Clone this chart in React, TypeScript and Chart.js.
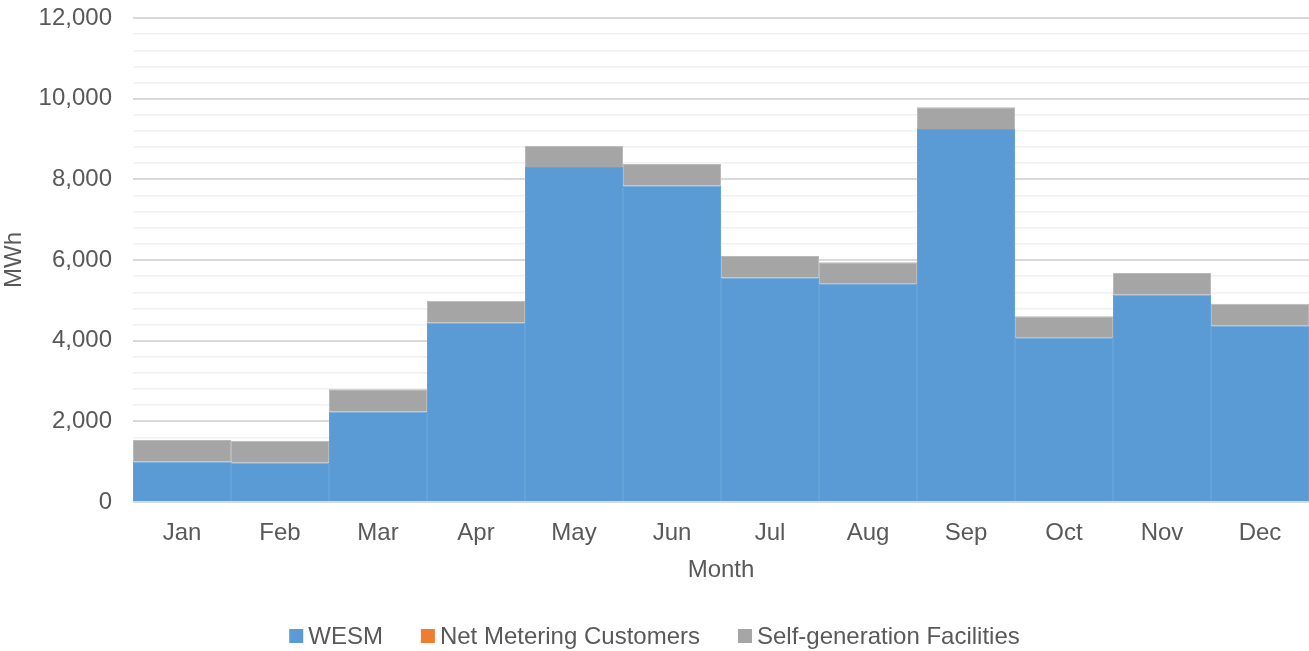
import React, { useEffect, useRef } from "react";
import { Chart, registerables } from "chart.js";

Chart.register(...registerables);

const months = ["Jan", "Feb", "Mar", "Apr", "May", "Jun", "Jul", "Aug", "Sep", "Oct", "Nov", "Dec"];
const wesm = [999, 975, 2239, 4446, 8306, 7843, 5562, 5421, 9248, 4083, 5140, 4372];
const netMetering = [0, 0, 0, 0, 0, 0, 0, 0, 0, 0, 0, 0];
const selfGeneration = [538, 545, 555, 545, 528, 537, 537, 521, 537, 520, 538, 545];
const seriesLabels = ["WESM", "Net Metering Customers", "Self-generation Facilities"];
const seriesColors = ["#5b9bd5", "#ed7d31", "#a5a5a5"];
const seriesEdges = ["#65a2d8", "#ed7d31", "#b9b9b9"];

const FONT = "'Liberation Sans', Arial, sans-serif";
const FS = 24;
const TXT = "#595959";

const legendPlugin = {
  id: "customLegend",
  afterDraw(chart: any) {
    const ctx = chart.ctx;
    ctx.save();
    ctx.font = `${FS}px ${FONT}`;
    const box = 14, gap = 5, itemGap = 38;
    const items = chart.data.datasets.map((d: any) => ({
      label: d.label,
      color: d.backgroundColor,
      w: ctx.measureText(d.label).width,
    }));
    let total = 0;
    items.forEach((it: any, i: number) => {
      total += box + gap + it.w + (i > 0 ? itemGap : 0);
    });
    let x = (chart.width - total) / 2;
    const y = 636;
    ctx.textBaseline = "middle";
    ctx.textAlign = "left";
    items.forEach((it: any) => {
      ctx.fillStyle = it.color;
      ctx.fillRect(x, y - box / 2, box, box);
      ctx.fillStyle = TXT;
      ctx.fillText(it.label, x + box + gap, y + 1);
      x += box + gap + it.w + itemGap;
    });
    ctx.restore();
  },
};

export default function App() {
  const ref = useRef<HTMLCanvasElement | null>(null);
  useEffect(() => {
    document.body.style.margin = "0";
    if (!ref.current) return;
    const data = [wesm, netMetering, selfGeneration];
    const chart = new Chart(ref.current, {
      type: "bar",
      data: {
        labels: months,
        datasets: data.map((vals, i) => ({
          label: seriesLabels[i],
          data: vals,
          backgroundColor: seriesColors[i],
          borderColor: seriesEdges[i],
          borderWidth: i === 1 ? 0 : 1,
          inflateAmount: 0,
          barPercentage: 1,
          categoryPercentage: 1,
        })),
      },
      options: {
        animation: false,
        responsive: true,
        maintainAspectRatio: false,
        layout: { padding: { top: 18, right: 0, left: 0, bottom: 66 } },
        plugins: {
          legend: { display: false },
          tooltip: { enabled: false },
        },
        scales: {
          x: {
            stacked: true,
            grid: { display: false, drawTicks: false },
            border: { display: false },
            ticks: {
              color: TXT,
              font: { family: FONT, size: FS },
              padding: 17,
              maxRotation: 0,
            },
            title: {
              display: true,
              text: "Month",
              color: TXT,
              font: { family: FONT, size: FS },
              padding: 0,
            },
            afterFit(scale: any) {
              scale.height = 83;
              scale.paddingLeft = 0;
              scale.paddingRight = 0;
            },
          },
          y: {
            stacked: true,
            min: 0,
            max: 12000,
            border: { display: false },
            grid: {
              drawTicks: false,
              color: (c: any) => (c.tick && c.tick.value % 2000 === 0 ? "#d9d9d9" : "#f0f0f0"),
              lineWidth: (c: any) => (c.tick && c.tick.value % 2000 === 0 ? 2 : 1.5),
            },
            ticks: {
              stepSize: 400,
              autoSkip: false,
              color: TXT,
              font: { family: FONT, size: FS },
              padding: 21,
              callback: (v: any) => (Number(v) % 2000 === 0 ? Number(v).toLocaleString("en-US") : ""),
            },
            title: {
              display: true,
              text: "MWh",
              color: TXT,
              font: { family: FONT, size: FS },
              padding: 0,
            },
            afterFit(scale: any) {
              scale.width = 133;
              scale.paddingTop = 0;
              scale.paddingBottom = 0;
            },
          },
        },
      },
      plugins: [legendPlugin],
    });
    return () => chart.destroy();
  }, []);
  return (
    <div style={{ width: 1309, height: 651, position: "relative" }}>
      <canvas ref={ref} />
    </div>
  );
}
